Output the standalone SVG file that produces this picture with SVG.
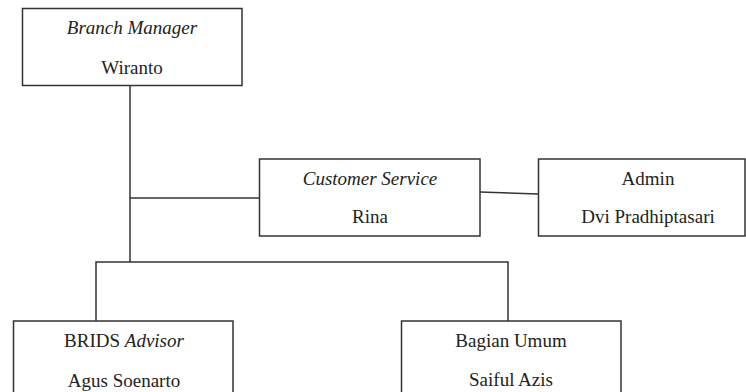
<svg xmlns="http://www.w3.org/2000/svg" width="746" height="392" viewBox="0 0 746 392">
<style>
.box{fill:#fff;stroke:#333;stroke-width:1.5}
.ln{fill:none;stroke:#333;stroke-width:1.5}
text{font-family:"Liberation Serif","Times New Roman",serif;font-size:19px;fill:#222;text-anchor:middle}
.i{font-style:italic}
</style>
<rect width="746" height="392" fill="#fff"/>
<g id="connectors">
<path class="ln" d="M130,85 V262"/>
<path class="ln" d="M130,198 H259"/>
<path class="ln" d="M480,192 L538,194"/>
<path class="ln" d="M96,321 V262 H508 V321"/>
</g>
<g id="branch-manager">
<rect class="box" x="22.5" y="8.5" width="219.5" height="77"/>
<text x="132" y="34" class="i">Branch Manager</text>
<text x="132" y="74">Wiranto</text>
</g>
<g id="customer-service">
<rect class="box" x="259.5" y="159" width="220.5" height="77"/>
<text x="370" y="185" class="i">Customer Service</text>
<text x="370" y="223">Rina</text>
</g>
<g id="admin">
<rect class="box" x="538.5" y="159" width="206.5" height="77"/>
<text x="648" y="185">Admin</text>
<text x="648" y="223">Dvi Pradhiptasari</text>
</g>
<g id="brids-advisor">
<rect class="box" x="13.5" y="321" width="219.5" height="80"/>
<text x="124" y="347">BRIDS <tspan class="i">Advisor</tspan></text>
<text x="124" y="387">Agus Soenarto</text>
</g>
<g id="bagian-umum">
<rect class="box" x="401.5" y="321" width="219.5" height="80"/>
<text x="511" y="347">Bagian Umum</text>
<text x="511" y="386">Saiful Azis</text>
</g>
</svg>
